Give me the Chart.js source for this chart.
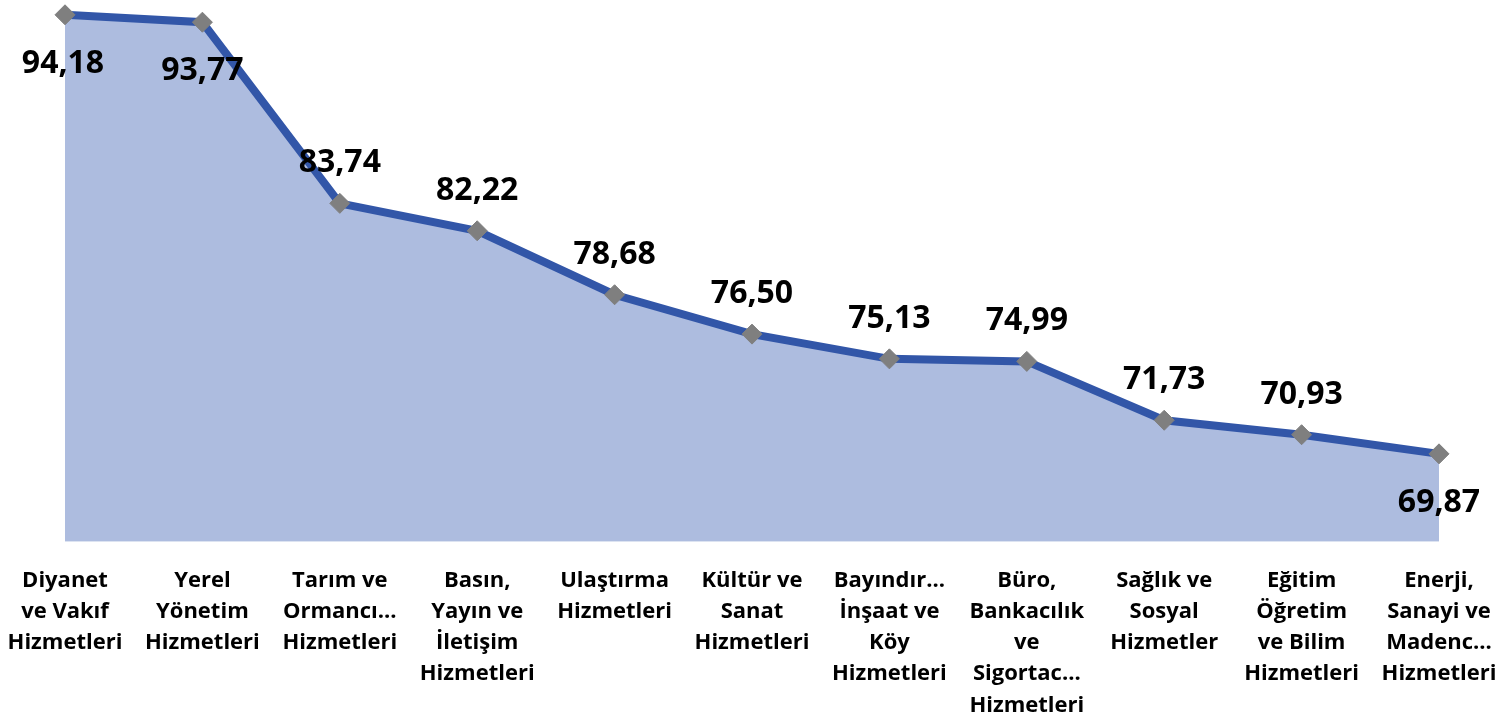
<!DOCTYPE html>
<html>
<head>
<meta charset="utf-8">
<script src="https://cdn.jsdelivr.net/npm/chart.js@4/dist/chart.umd.min.js"></script>
<style>
    html, body { margin: 0; padding: 0; background: #fff; }
    #wrap { width: 1506px; height: 719px; position: relative; }
</style>
</head>
<body>
<div id="wrap"><canvas id="scoreChart"></canvas></div>
<script>
// Categories (wrapped the way the original shows them)
const categories = [
    ['Diyanet', 've Vakıf', 'Hizmetleri'],
    ['Yerel', 'Yönetim', 'Hizmetleri'],
    ['Tarım ve', 'Ormancı...', 'Hizmetleri'],
    ['Basın,', 'Yayın ve', 'İletişim', 'Hizmetleri'],
    ['Ulaştırma', 'Hizmetleri'],
    ['Kültür ve', 'Sanat', 'Hizmetleri'],
    ['Bayındır...', 'İnşaat ve', 'Köy', 'Hizmetleri'],
    ['Büro,', 'Bankacılık', 've', 'Sigortac...', 'Hizmetleri'],
    ['Sağlık ve', 'Sosyal', 'Hizmetler'],
    ['Eğitim', 'Öğretim', 've Bilim', 'Hizmetleri'],
    ['Enerji,', 'Sanayi ve', 'Madenc...', 'Hizmetleri']
];

const scores = [94.18, 93.77, 83.74, 82.22, 78.68, 76.50, 75.13, 74.99, 71.73, 70.93, 69.87];

// where each value label sits relative to its point
const labelSide = ['below', 'below', 'above', 'above', 'above', 'above', 'above', 'above', 'above', 'above', 'below'];

// Simple value label plugin
const valueLabels = {
    id: 'valueLabels',
    afterDatasetsDraw(chart) {
        const ctx = chart.ctx;
        const meta = chart.getDatasetMeta(0);
        ctx.save();
        ctx.font = 'bold 32px "Open Sans"';
        ctx.fillStyle = '#000';
        ctx.textAlign = 'center';
        ctx.textBaseline = 'middle';
        meta.data.forEach((pt, i) => {
            const txt = scores[i].toFixed(2).replace('.', ',');
            let x = pt.x;
            let y = labelSide[i] === 'below' ? pt.y + 49 : pt.y - 40;
            if (i === 0) x -= 2;
            ctx.fillText(txt, x, y);
        });
        ctx.restore();
    }
};

const ctx = document.getElementById('scoreChart').getContext('2d');
new Chart(ctx, {
    type: 'line',
    data: {
        labels: categories,
        datasets: [{
            data: scores,
            borderColor: '#3256a8',
            borderWidth: 8,
            backgroundColor: '#adbcdf',
            fill: 'start',
            tension: 0,
            clip: false,
            pointStyle: 'rectRot',
            pointRadius: 10,
            pointHoverRadius: 10,
            pointBackgroundColor: '#7f7f7f',
            pointBorderColor: '#7f7f7f',
            pointBorderWidth: 1
        }]
    },
    options: {
        responsive: true,
        maintainAspectRatio: false,
        animation: false,
        layout: {
            autoPadding: false,
            // negative bottom pushes the label block down to where the original has it
            padding: { left: 65, right: 67, top: 0, bottom: -17 }
        },
        plugins: {
            legend: { display: false },
            tooltip: { enabled: false }
        },
        scales: {
            x: {
                offset: false,
                grid: { display: false },
                border: { display: false },
                // edge labels fit inside the layout padding, so no extra inset
                afterFit(scale) {
                    scale.paddingLeft = 0;
                    scale.paddingRight = 0;
                },
                ticks: {
                    autoSkip: false,
                    maxRotation: 0,
                    minRotation: 0,
                    padding: 15,
                    color: '#000',
                    font: { family: '"Open Sans"', size: 22, weight: 'bold', lineHeight: 1.42 }
                }
            },
            y: {
                display: false,
                min: 65,
                max: 95
            }
        }
    },
    plugins: [valueLabels]
});
</script>
</body>
</html>
